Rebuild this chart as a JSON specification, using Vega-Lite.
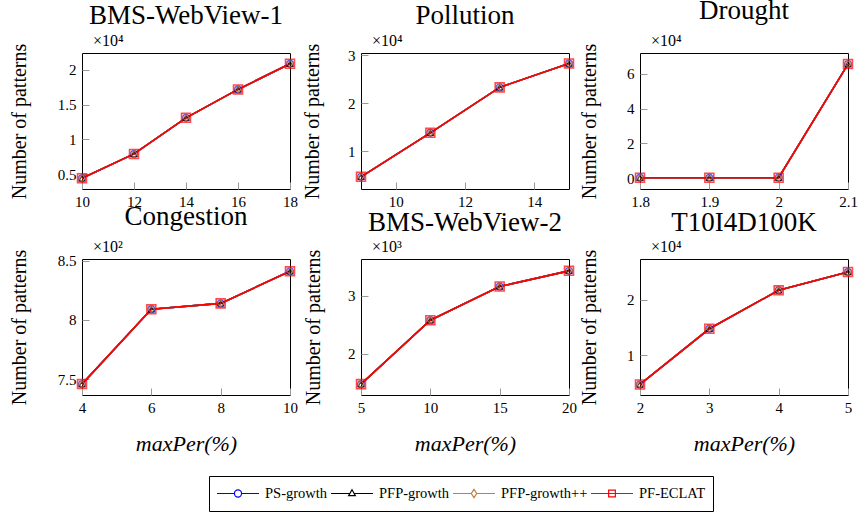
{
  "$schema": "https://vega.github.io/schema/vega-lite/v6.json",
  "padding": {"left": 8, "top": -4, "right": 0, "bottom": 0},
  "background": "white",
  "datasets": {
    "patterns": [
      {"dataset": "BMS-WebView-1", "maxPer": 10, "algorithm": "PS-growth", "patterns": 4400},
      {"dataset": "BMS-WebView-1", "maxPer": 12, "algorithm": "PS-growth", "patterns": 7900},
      {"dataset": "BMS-WebView-1", "maxPer": 14, "algorithm": "PS-growth", "patterns": 13100},
      {"dataset": "BMS-WebView-1", "maxPer": 16, "algorithm": "PS-growth", "patterns": 17200},
      {"dataset": "BMS-WebView-1", "maxPer": 18, "algorithm": "PS-growth", "patterns": 20900},
      {"dataset": "Pollution", "maxPer": 9, "algorithm": "PS-growth", "patterns": 4600},
      {"dataset": "Pollution", "maxPer": 11, "algorithm": "PS-growth", "patterns": 13800},
      {"dataset": "Pollution", "maxPer": 13, "algorithm": "PS-growth", "patterns": 23300},
      {"dataset": "Pollution", "maxPer": 15, "algorithm": "PS-growth", "patterns": 28300},
      {"dataset": "Drought", "maxPer": 1.8, "algorithm": "PS-growth", "patterns": 170},
      {"dataset": "Drought", "maxPer": 1.9, "algorithm": "PS-growth", "patterns": 170},
      {"dataset": "Drought", "maxPer": 2.0, "algorithm": "PS-growth", "patterns": 170},
      {"dataset": "Drought", "maxPer": 2.1, "algorithm": "PS-growth", "patterns": 65700},
      {"dataset": "Congestion", "maxPer": 4, "algorithm": "PS-growth", "patterns": 746},
      {"dataset": "Congestion", "maxPer": 6, "algorithm": "PS-growth", "patterns": 809},
      {"dataset": "Congestion", "maxPer": 8, "algorithm": "PS-growth", "patterns": 814},
      {"dataset": "Congestion", "maxPer": 10, "algorithm": "PS-growth", "patterns": 841},
      {"dataset": "BMS-WebView-2", "maxPer": 5, "algorithm": "PS-growth", "patterns": 1480},
      {"dataset": "BMS-WebView-2", "maxPer": 10, "algorithm": "PS-growth", "patterns": 2580},
      {"dataset": "BMS-WebView-2", "maxPer": 15, "algorithm": "PS-growth", "patterns": 3160},
      {"dataset": "BMS-WebView-2", "maxPer": 20, "algorithm": "PS-growth", "patterns": 3430},
      {"dataset": "T10I4D100K", "maxPer": 2, "algorithm": "PS-growth", "patterns": 4800},
      {"dataset": "T10I4D100K", "maxPer": 3, "algorithm": "PS-growth", "patterns": 14800},
      {"dataset": "T10I4D100K", "maxPer": 4, "algorithm": "PS-growth", "patterns": 21700},
      {"dataset": "T10I4D100K", "maxPer": 5, "algorithm": "PS-growth", "patterns": 25000},

      {"dataset": "BMS-WebView-1", "maxPer": 10, "algorithm": "PFP-growth", "patterns": 4400},
      {"dataset": "BMS-WebView-1", "maxPer": 12, "algorithm": "PFP-growth", "patterns": 7900},
      {"dataset": "BMS-WebView-1", "maxPer": 14, "algorithm": "PFP-growth", "patterns": 13100},
      {"dataset": "BMS-WebView-1", "maxPer": 16, "algorithm": "PFP-growth", "patterns": 17200},
      {"dataset": "BMS-WebView-1", "maxPer": 18, "algorithm": "PFP-growth", "patterns": 20900},
      {"dataset": "Pollution", "maxPer": 9, "algorithm": "PFP-growth", "patterns": 4600},
      {"dataset": "Pollution", "maxPer": 11, "algorithm": "PFP-growth", "patterns": 13800},
      {"dataset": "Pollution", "maxPer": 13, "algorithm": "PFP-growth", "patterns": 23300},
      {"dataset": "Pollution", "maxPer": 15, "algorithm": "PFP-growth", "patterns": 28300},
      {"dataset": "Drought", "maxPer": 1.8, "algorithm": "PFP-growth", "patterns": 170},
      {"dataset": "Drought", "maxPer": 1.9, "algorithm": "PFP-growth", "patterns": 170},
      {"dataset": "Drought", "maxPer": 2.0, "algorithm": "PFP-growth", "patterns": 170},
      {"dataset": "Drought", "maxPer": 2.1, "algorithm": "PFP-growth", "patterns": 65700},
      {"dataset": "Congestion", "maxPer": 4, "algorithm": "PFP-growth", "patterns": 746},
      {"dataset": "Congestion", "maxPer": 6, "algorithm": "PFP-growth", "patterns": 809},
      {"dataset": "Congestion", "maxPer": 8, "algorithm": "PFP-growth", "patterns": 814},
      {"dataset": "Congestion", "maxPer": 10, "algorithm": "PFP-growth", "patterns": 841},
      {"dataset": "BMS-WebView-2", "maxPer": 5, "algorithm": "PFP-growth", "patterns": 1480},
      {"dataset": "BMS-WebView-2", "maxPer": 10, "algorithm": "PFP-growth", "patterns": 2580},
      {"dataset": "BMS-WebView-2", "maxPer": 15, "algorithm": "PFP-growth", "patterns": 3160},
      {"dataset": "BMS-WebView-2", "maxPer": 20, "algorithm": "PFP-growth", "patterns": 3430},
      {"dataset": "T10I4D100K", "maxPer": 2, "algorithm": "PFP-growth", "patterns": 4800},
      {"dataset": "T10I4D100K", "maxPer": 3, "algorithm": "PFP-growth", "patterns": 14800},
      {"dataset": "T10I4D100K", "maxPer": 4, "algorithm": "PFP-growth", "patterns": 21700},
      {"dataset": "T10I4D100K", "maxPer": 5, "algorithm": "PFP-growth", "patterns": 25000},

      {"dataset": "BMS-WebView-1", "maxPer": 10, "algorithm": "PFP-growth++", "patterns": 4400},
      {"dataset": "BMS-WebView-1", "maxPer": 12, "algorithm": "PFP-growth++", "patterns": 7900},
      {"dataset": "BMS-WebView-1", "maxPer": 14, "algorithm": "PFP-growth++", "patterns": 13100},
      {"dataset": "BMS-WebView-1", "maxPer": 16, "algorithm": "PFP-growth++", "patterns": 17200},
      {"dataset": "BMS-WebView-1", "maxPer": 18, "algorithm": "PFP-growth++", "patterns": 20900},
      {"dataset": "Pollution", "maxPer": 9, "algorithm": "PFP-growth++", "patterns": 4600},
      {"dataset": "Pollution", "maxPer": 11, "algorithm": "PFP-growth++", "patterns": 13800},
      {"dataset": "Pollution", "maxPer": 13, "algorithm": "PFP-growth++", "patterns": 23300},
      {"dataset": "Pollution", "maxPer": 15, "algorithm": "PFP-growth++", "patterns": 28300},
      {"dataset": "Drought", "maxPer": 1.8, "algorithm": "PFP-growth++", "patterns": 170},
      {"dataset": "Drought", "maxPer": 1.9, "algorithm": "PFP-growth++", "patterns": 170},
      {"dataset": "Drought", "maxPer": 2.0, "algorithm": "PFP-growth++", "patterns": 170},
      {"dataset": "Drought", "maxPer": 2.1, "algorithm": "PFP-growth++", "patterns": 65700},
      {"dataset": "Congestion", "maxPer": 4, "algorithm": "PFP-growth++", "patterns": 746},
      {"dataset": "Congestion", "maxPer": 6, "algorithm": "PFP-growth++", "patterns": 809},
      {"dataset": "Congestion", "maxPer": 8, "algorithm": "PFP-growth++", "patterns": 814},
      {"dataset": "Congestion", "maxPer": 10, "algorithm": "PFP-growth++", "patterns": 841},
      {"dataset": "BMS-WebView-2", "maxPer": 5, "algorithm": "PFP-growth++", "patterns": 1480},
      {"dataset": "BMS-WebView-2", "maxPer": 10, "algorithm": "PFP-growth++", "patterns": 2580},
      {"dataset": "BMS-WebView-2", "maxPer": 15, "algorithm": "PFP-growth++", "patterns": 3160},
      {"dataset": "BMS-WebView-2", "maxPer": 20, "algorithm": "PFP-growth++", "patterns": 3430},
      {"dataset": "T10I4D100K", "maxPer": 2, "algorithm": "PFP-growth++", "patterns": 4800},
      {"dataset": "T10I4D100K", "maxPer": 3, "algorithm": "PFP-growth++", "patterns": 14800},
      {"dataset": "T10I4D100K", "maxPer": 4, "algorithm": "PFP-growth++", "patterns": 21700},
      {"dataset": "T10I4D100K", "maxPer": 5, "algorithm": "PFP-growth++", "patterns": 25000},

      {"dataset": "BMS-WebView-1", "maxPer": 10, "algorithm": "PF-ECLAT", "patterns": 4400},
      {"dataset": "BMS-WebView-1", "maxPer": 12, "algorithm": "PF-ECLAT", "patterns": 7900},
      {"dataset": "BMS-WebView-1", "maxPer": 14, "algorithm": "PF-ECLAT", "patterns": 13100},
      {"dataset": "BMS-WebView-1", "maxPer": 16, "algorithm": "PF-ECLAT", "patterns": 17200},
      {"dataset": "BMS-WebView-1", "maxPer": 18, "algorithm": "PF-ECLAT", "patterns": 20900},
      {"dataset": "Pollution", "maxPer": 9, "algorithm": "PF-ECLAT", "patterns": 4600},
      {"dataset": "Pollution", "maxPer": 11, "algorithm": "PF-ECLAT", "patterns": 13800},
      {"dataset": "Pollution", "maxPer": 13, "algorithm": "PF-ECLAT", "patterns": 23300},
      {"dataset": "Pollution", "maxPer": 15, "algorithm": "PF-ECLAT", "patterns": 28300},
      {"dataset": "Drought", "maxPer": 1.8, "algorithm": "PF-ECLAT", "patterns": 170},
      {"dataset": "Drought", "maxPer": 1.9, "algorithm": "PF-ECLAT", "patterns": 170},
      {"dataset": "Drought", "maxPer": 2.0, "algorithm": "PF-ECLAT", "patterns": 170},
      {"dataset": "Drought", "maxPer": 2.1, "algorithm": "PF-ECLAT", "patterns": 65700},
      {"dataset": "Congestion", "maxPer": 4, "algorithm": "PF-ECLAT", "patterns": 746},
      {"dataset": "Congestion", "maxPer": 6, "algorithm": "PF-ECLAT", "patterns": 809},
      {"dataset": "Congestion", "maxPer": 8, "algorithm": "PF-ECLAT", "patterns": 814},
      {"dataset": "Congestion", "maxPer": 10, "algorithm": "PF-ECLAT", "patterns": 841},
      {"dataset": "BMS-WebView-2", "maxPer": 5, "algorithm": "PF-ECLAT", "patterns": 1480},
      {"dataset": "BMS-WebView-2", "maxPer": 10, "algorithm": "PF-ECLAT", "patterns": 2580},
      {"dataset": "BMS-WebView-2", "maxPer": 15, "algorithm": "PF-ECLAT", "patterns": 3160},
      {"dataset": "BMS-WebView-2", "maxPer": 20, "algorithm": "PF-ECLAT", "patterns": 3430},
      {"dataset": "T10I4D100K", "maxPer": 2, "algorithm": "PF-ECLAT", "patterns": 4800},
      {"dataset": "T10I4D100K", "maxPer": 3, "algorithm": "PF-ECLAT", "patterns": 14800},
      {"dataset": "T10I4D100K", "maxPer": 4, "algorithm": "PF-ECLAT", "patterns": 21700},
      {"dataset": "T10I4D100K", "maxPer": 5, "algorithm": "PF-ECLAT", "patterns": 25000}
    ]
  },
  "columns": 3,
  "spacing": {"row": 70, "column": 71},
  "bounds": "flush",
  "concat": [
    {
      "title": {"text": "BMS-WebView-1", "offset": 3},
      "width": 208, "height": 136,
      "data": {"name": "patterns"},
      "transform": [{"filter": "datum.dataset === 'BMS-WebView-1'"}],
      "encoding": {
        "x": {"field": "maxPer", "type": "quantitative", "scale": {"domain": [10, 18], "nice": false, "zero": false}, "axis": {"values": [10, 12, 14, 16, 18], "title": null}},
        "y": {"field": "patterns", "type": "quantitative", "scale": {"domain": [2840, 22450], "nice": false, "zero": false}, "axis": {"values": [5000, 10000, 15000, 20000], "labelExpr": "datum.value % 10000 === 0 ? (datum.value / 10000) + '\u2008' : '' + datum.value / 10000", "title": "Number of patterns", "titlePadding": 28}}
      },
      "layer": [
        {"mark": {"type": "line", "strokeWidth": 1.6},
         "encoding": {"color": {"field": "algorithm", "type": "nominal",
           "scale": {"domain": ["PS-growth", "PFP-growth", "PFP-growth++", "PF-ECLAT"], "range": ["#0000ff", "#000000", "#bf8040", "#ff0000"]},
           "legend": {"title": null, "orient": "none", "legendX": 127, "legendY": 423, "direction": "horizontal", "columns": 4, "symbolSize": 1764, "clipHeight": 21, "labelFont": "Liberation Serif", "labelFontSize": 14.5, "labelColor": "black", "labelOffset": 5, "columnPadding": 2, "padding": 7, "strokeColor": "black", "fillColor": "white", "symbolStrokeWidth": 1.2,
             "encode": {"symbols": {"update": {"fill": {"value": "transparent"}, "strokeWidth": {"value": 1.2}, "shape": {"signal": "datum.value === 'PS-growth' ? 'M-1,0H-0.17M0.17,0H1M0.17,0A0.17,0.17,0,1,1,-0.17,0A0.17,0.17,0,1,1,0.17,0' : datum.value === 'PFP-growth' ? 'M-1,0H-0.1M0.1,0H1M0,-0.18L0.16,0.1L-0.16,0.1Z' : datum.value === 'PFP-growth++' ? 'M-1,0H-0.13M0.13,0H1M0,-0.2L0.13,0L0,0.2L-0.13,0Z' : 'M-1,0H1M-0.16,-0.16H0.16V0.16H-0.16Z'"}}}}}}}},
        {"transform": [{"filter": "datum.algorithm === 'PS-growth'"}], "mark": {"type": "point", "shape": "circle", "filled": false, "size": 45, "strokeWidth": 1.2}, "encoding": {"color": {"field": "algorithm", "type": "nominal", "legend": null}}},
        {"transform": [{"filter": "datum.algorithm === 'PFP-growth'"}], "mark": {"type": "point", "shape": "triangle-up", "filled": false, "size": 36, "strokeWidth": 1.2}, "encoding": {"color": {"field": "algorithm", "type": "nominal", "legend": null}}},
        {"transform": [{"filter": "datum.algorithm === 'PFP-growth++'"}], "mark": {"type": "point", "shape": "diamond", "filled": false, "size": 45, "strokeWidth": 1.2}, "encoding": {"color": {"field": "algorithm", "type": "nominal", "legend": null}}},
        {"transform": [{"filter": "datum.algorithm === 'PF-ECLAT'"}], "mark": {"type": "point", "shape": "square", "filled": false, "size": 80, "strokeWidth": 1.6}, "encoding": {"color": {"field": "algorithm", "type": "nominal", "legend": null}}},
        {"transform": [{"filter": "datum.algorithm === 'PS-growth' && datum.maxPer === 10"}],
         "mark": {"type": "text", "align": "left", "baseline": "alphabetic", "dx": 11, "dy": -7, "font": "Liberation Serif", "fontSize": 16, "fill": "black"},
         "encoding": {"y": {"datum": 22450}, "text": {"value": "×10⁴"}}}
      ]
    },
    {
      "title": {"text": "Pollution", "offset": 3},
      "width": 208, "height": 136,
      "data": {"name": "patterns"},
      "transform": [{"filter": "datum.dataset === 'Pollution'"}],
      "encoding": {
        "x": {"field": "maxPer", "type": "quantitative", "scale": {"domain": [9, 15], "nice": false, "zero": false}, "axis": {"values": [10, 12, 14], "title": null}},
        "y": {"field": "patterns", "type": "quantitative", "scale": {"domain": [2060, 30480], "nice": false, "zero": false}, "axis": {"values": [10000, 20000, 30000], "labelExpr": "(datum.value / 10000) + '\u2008'", "title": "Number of patterns", "titlePadding": 25}}
      },
      "layer": [
        {"mark": {"type": "line", "strokeWidth": 1.6}, "encoding": {"color": {"field": "algorithm", "type": "nominal", "legend": null}}},
        {"transform": [{"filter": "datum.algorithm === 'PS-growth'"}], "mark": {"type": "point", "shape": "circle", "filled": false, "size": 45, "strokeWidth": 1.2}, "encoding": {"color": {"field": "algorithm", "type": "nominal", "legend": null}}},
        {"transform": [{"filter": "datum.algorithm === 'PFP-growth'"}], "mark": {"type": "point", "shape": "triangle-up", "filled": false, "size": 36, "strokeWidth": 1.2}, "encoding": {"color": {"field": "algorithm", "type": "nominal", "legend": null}}},
        {"transform": [{"filter": "datum.algorithm === 'PFP-growth++'"}], "mark": {"type": "point", "shape": "diamond", "filled": false, "size": 45, "strokeWidth": 1.2}, "encoding": {"color": {"field": "algorithm", "type": "nominal", "legend": null}}},
        {"transform": [{"filter": "datum.algorithm === 'PF-ECLAT'"}], "mark": {"type": "point", "shape": "square", "filled": false, "size": 80, "strokeWidth": 1.6}, "encoding": {"color": {"field": "algorithm", "type": "nominal", "legend": null}}},
        {"transform": [{"filter": "datum.algorithm === 'PS-growth' && datum.maxPer === 9"}],
         "mark": {"type": "text", "align": "left", "baseline": "alphabetic", "dx": 11, "dy": -7, "font": "Liberation Serif", "fontSize": 16, "fill": "black"},
         "encoding": {"y": {"datum": 30480}, "text": {"value": "×10⁴"}}}
      ]
    },
    {
      "title": {"text": "Drought", "offset": 8},
      "width": 208, "height": 136,
      "data": {"name": "patterns"},
      "transform": [{"filter": "datum.dataset === 'Drought'"}],
      "encoding": {
        "x": {"field": "maxPer", "type": "quantitative", "scale": {"domain": [1.8, 2.1], "nice": false, "zero": false}, "axis": {"values": [1.8, 1.9, 2, 2.1], "labelExpr": "'' + datum.value", "title": null}},
        "y": {"field": "patterns", "type": "quantitative", "scale": {"domain": [-6330, 72100], "nice": false, "zero": false}, "axis": {"values": [0, 20000, 40000, 60000], "labelExpr": "(datum.value / 10000) + '\u2008'", "title": "Number of patterns", "titlePadding": 27}}
      },
      "layer": [
        {"mark": {"type": "line", "strokeWidth": 1.6}, "encoding": {"color": {"field": "algorithm", "type": "nominal", "legend": null}}},
        {"transform": [{"filter": "datum.algorithm === 'PS-growth'"}], "mark": {"type": "point", "shape": "circle", "filled": false, "size": 45, "strokeWidth": 1.2}, "encoding": {"color": {"field": "algorithm", "type": "nominal", "legend": null}}},
        {"transform": [{"filter": "datum.algorithm === 'PFP-growth'"}], "mark": {"type": "point", "shape": "triangle-up", "filled": false, "size": 36, "strokeWidth": 1.2}, "encoding": {"color": {"field": "algorithm", "type": "nominal", "legend": null}}},
        {"transform": [{"filter": "datum.algorithm === 'PFP-growth++'"}], "mark": {"type": "point", "shape": "diamond", "filled": false, "size": 45, "strokeWidth": 1.2}, "encoding": {"color": {"field": "algorithm", "type": "nominal", "legend": null}}},
        {"transform": [{"filter": "datum.algorithm === 'PF-ECLAT'"}], "mark": {"type": "point", "shape": "square", "filled": false, "size": 80, "strokeWidth": 1.6}, "encoding": {"color": {"field": "algorithm", "type": "nominal", "legend": null}}},
        {"transform": [{"filter": "datum.algorithm === 'PS-growth' && datum.maxPer === 1.8"}],
         "mark": {"type": "text", "align": "left", "baseline": "alphabetic", "dx": 11, "dy": -7, "font": "Liberation Serif", "fontSize": 16, "fill": "black"},
         "encoding": {"y": {"datum": 72100}, "text": {"value": "×10⁴"}}}
      ]
    },
    {
      "title": {"text": "Congestion", "offset": 7.6},
      "width": 208, "height": 136,
      "data": {"name": "patterns"},
      "transform": [{"filter": "datum.dataset === 'Congestion'"}],
      "encoding": {
        "x": {"field": "maxPer", "type": "quantitative", "scale": {"domain": [4, 10], "nice": false, "zero": false}, "axis": {"values": [4, 6, 8, 10], "title": "maxPer(%)"}},
        "y": {"field": "patterns", "type": "quantitative", "scale": {"domain": [736.8, 851.4], "nice": false, "zero": false}, "axis": {"values": [750, 800, 850], "labelExpr": "datum.value % 100 === 0 ? (datum.value / 100) + '\u2008' : '' + datum.value / 100", "title": "Number of patterns", "titlePadding": 28}}
      },
      "layer": [
        {"mark": {"type": "line", "strokeWidth": 1.6}, "encoding": {"color": {"field": "algorithm", "type": "nominal", "legend": null}}},
        {"transform": [{"filter": "datum.algorithm === 'PS-growth'"}], "mark": {"type": "point", "shape": "circle", "filled": false, "size": 45, "strokeWidth": 1.2}, "encoding": {"color": {"field": "algorithm", "type": "nominal", "legend": null}}},
        {"transform": [{"filter": "datum.algorithm === 'PFP-growth'"}], "mark": {"type": "point", "shape": "triangle-up", "filled": false, "size": 36, "strokeWidth": 1.2}, "encoding": {"color": {"field": "algorithm", "type": "nominal", "legend": null}}},
        {"transform": [{"filter": "datum.algorithm === 'PFP-growth++'"}], "mark": {"type": "point", "shape": "diamond", "filled": false, "size": 45, "strokeWidth": 1.2}, "encoding": {"color": {"field": "algorithm", "type": "nominal", "legend": null}}},
        {"transform": [{"filter": "datum.algorithm === 'PF-ECLAT'"}], "mark": {"type": "point", "shape": "square", "filled": false, "size": 80, "strokeWidth": 1.6}, "encoding": {"color": {"field": "algorithm", "type": "nominal", "legend": null}}},
        {"transform": [{"filter": "datum.algorithm === 'PS-growth' && datum.maxPer === 4"}],
         "mark": {"type": "text", "align": "left", "baseline": "alphabetic", "dx": 11, "dy": -7, "font": "Liberation Serif", "fontSize": 16, "fill": "black"},
         "encoding": {"y": {"datum": 851.4}, "text": {"value": "×10²"}}}
      ]
    },
    {
      "title": {"text": "BMS-WebView-2", "offset": 2.4},
      "width": 208, "height": 136,
      "data": {"name": "patterns"},
      "transform": [{"filter": "datum.dataset === 'BMS-WebView-2'"}],
      "encoding": {
        "x": {"field": "maxPer", "type": "quantitative", "scale": {"domain": [5, 20], "nice": false, "zero": false}, "axis": {"values": [5, 10, 15, 20], "title": "maxPer(%)"}},
        "y": {"field": "patterns", "type": "quantitative", "scale": {"domain": [1293, 3634], "nice": false, "zero": false}, "axis": {"values": [2000, 3000], "labelExpr": "(datum.value / 1000) + '\u2008'", "title": "Number of patterns", "titlePadding": 24}}
      },
      "layer": [
        {"mark": {"type": "line", "strokeWidth": 1.6}, "encoding": {"color": {"field": "algorithm", "type": "nominal", "legend": null}}},
        {"transform": [{"filter": "datum.algorithm === 'PS-growth'"}], "mark": {"type": "point", "shape": "circle", "filled": false, "size": 45, "strokeWidth": 1.2}, "encoding": {"color": {"field": "algorithm", "type": "nominal", "legend": null}}},
        {"transform": [{"filter": "datum.algorithm === 'PFP-growth'"}], "mark": {"type": "point", "shape": "triangle-up", "filled": false, "size": 36, "strokeWidth": 1.2}, "encoding": {"color": {"field": "algorithm", "type": "nominal", "legend": null}}},
        {"transform": [{"filter": "datum.algorithm === 'PFP-growth++'"}], "mark": {"type": "point", "shape": "diamond", "filled": false, "size": 45, "strokeWidth": 1.2}, "encoding": {"color": {"field": "algorithm", "type": "nominal", "legend": null}}},
        {"transform": [{"filter": "datum.algorithm === 'PF-ECLAT'"}], "mark": {"type": "point", "shape": "square", "filled": false, "size": 80, "strokeWidth": 1.6}, "encoding": {"color": {"field": "algorithm", "type": "nominal", "legend": null}}},
        {"transform": [{"filter": "datum.algorithm === 'PS-growth' && datum.maxPer === 5"}],
         "mark": {"type": "text", "align": "left", "baseline": "alphabetic", "dx": 11, "dy": -7, "font": "Liberation Serif", "fontSize": 16, "fill": "black"},
         "encoding": {"y": {"datum": 3634}, "text": {"value": "×10³"}}}
      ]
    },
    {
      "title": {"text": "T10I4D100K", "offset": 2.4},
      "width": 208, "height": 136,
      "data": {"name": "patterns"},
      "transform": [{"filter": "datum.dataset === 'T10I4D100K'"}],
      "encoding": {
        "x": {"field": "maxPer", "type": "quantitative", "scale": {"domain": [2, 5], "nice": false, "zero": false}, "axis": {"values": [2, 3, 4, 5], "title": "maxPer(%)"}},
        "y": {"field": "patterns", "type": "quantitative", "scale": {"domain": [2910, 27320], "nice": false, "zero": false}, "axis": {"values": [10000, 20000], "labelExpr": "(datum.value / 10000) + '\u2008'", "title": "Number of patterns", "titlePadding": 27}}
      },
      "layer": [
        {"mark": {"type": "line", "strokeWidth": 1.6}, "encoding": {"color": {"field": "algorithm", "type": "nominal", "legend": null}}},
        {"transform": [{"filter": "datum.algorithm === 'PS-growth'"}], "mark": {"type": "point", "shape": "circle", "filled": false, "size": 45, "strokeWidth": 1.2}, "encoding": {"color": {"field": "algorithm", "type": "nominal", "legend": null}}},
        {"transform": [{"filter": "datum.algorithm === 'PFP-growth'"}], "mark": {"type": "point", "shape": "triangle-up", "filled": false, "size": 36, "strokeWidth": 1.2}, "encoding": {"color": {"field": "algorithm", "type": "nominal", "legend": null}}},
        {"transform": [{"filter": "datum.algorithm === 'PFP-growth++'"}], "mark": {"type": "point", "shape": "diamond", "filled": false, "size": 45, "strokeWidth": 1.2}, "encoding": {"color": {"field": "algorithm", "type": "nominal", "legend": null}}},
        {"transform": [{"filter": "datum.algorithm === 'PF-ECLAT'"}], "mark": {"type": "point", "shape": "square", "filled": false, "size": 80, "strokeWidth": 1.6}, "encoding": {"color": {"field": "algorithm", "type": "nominal", "legend": null}}},
        {"transform": [{"filter": "datum.algorithm === 'PS-growth' && datum.maxPer === 2"}],
         "mark": {"type": "text", "align": "left", "baseline": "alphabetic", "dx": 11, "dy": -7, "font": "Liberation Serif", "fontSize": 16, "fill": "black"},
         "encoding": {"y": {"datum": 27320}, "text": {"value": "×10⁴"}}}
      ]
    }
  ],
  "config": {
    "font": "Liberation Serif",
    "view": {"stroke": "black", "strokeWidth": 1},
    "title": {"font": "Liberation Serif", "fontSize": 27, "fontWeight": "normal", "color": "black", "baseline": "alphabetic", "anchor": "middle", "frame": "group"},
    "axis": {"grid": false, "domain": false, "tickColor": "#9a9a9a", "tickSize": -7, "tickWidth": 1, "labelPadding": 13, "labelFont": "Liberation Serif", "labelFontSize": 15, "labelColor": "black", "labelFlush": false, "labelOverlap": false, "titleFont": "Liberation Serif", "titleFontWeight": "normal", "titleColor": "black"},
    "axisY": {"titleFontSize": 20},
    "axisX": {"titleFontSize": 22, "titleFontStyle": "italic", "titlePadding": 18, "labelPadding": 12}
  }
}
